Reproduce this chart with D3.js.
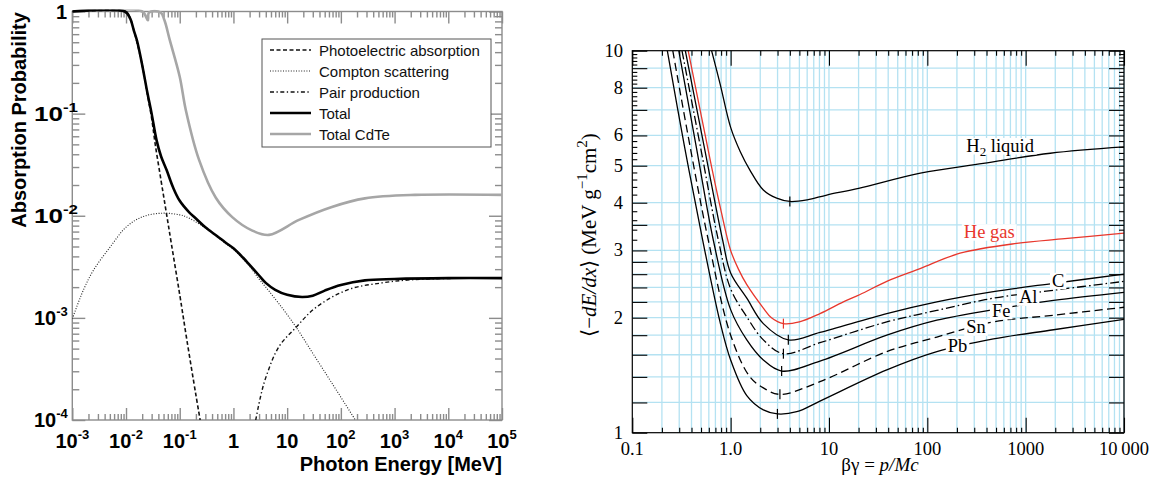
<!DOCTYPE html>
<html>
<head>
<meta charset="utf-8">
<script src="https://cdn.jsdelivr.net/npm/d3@7"></script>
<style>
  body { margin: 0; background: #fff; }
  svg { display: block; }
</style>
</head>
<body>
<div id="chart"></div>
<script>
// ---------- left panel: absorption probability vs photon energy (MeV)
const peE = [0.001, 0.01, 0.011, 0.013, 0.016, 0.02, 0.025, 0.03, 0.035, 0.045, 0.056, 0.07, 0.1, 0.135, 0.2, 0.24];
const peP = [1, 1, 0.95, 0.75, 0.5, 0.3, 0.155, 0.09, 0.05, 0.022, 0.0109, 0.0053, 0.00169, 0.00062, 0.000176, 0.0001];

const comptonE = [0.001, 0.0016, 0.00245, 0.005, 0.0102, 0.0206, 0.0484, 0.1, 0.13, 0.2, 0.3, 0.5, 0.7, 1, 1.5, 2, 3, 4, 8, 14.7, 30, 68, 186];
const comptonP = [0.00098, 0.00186, 0.0029, 0.0049, 0.0078, 0.0098, 0.0106, 0.0102, 0.0098, 0.0087, 0.0076, 0.0062, 0.0054, 0.0047, 0.0038, 0.0032, 0.0024, 0.002, 0.00126, 0.00081, 0.00045, 0.00023, 0.0001];

const pairE = [2.6, 3.2, 4.0, 7, 14.7, 34, 140, 580, 2000, 10000, 100000];
const pairP = [0.0001, 0.00017, 0.00026, 0.00052, 0.00081, 0.00126, 0.0019, 0.0022, 0.00236, 0.00243, 0.00245];

const totalE = [0.001, 0.0095, 0.012, 0.014, 0.016, 0.02, 0.025, 0.03, 0.037, 0.045, 0.057, 0.075, 0.1, 0.15, 0.2, 0.3, 0.5, 0.7, 1, 1.5, 2, 3, 4, 6, 10, 19, 30, 50, 100, 280, 1000, 10000, 100000];
const totalP = [1, 1, 0.85, 0.65, 0.52, 0.3, 0.16, 0.1, 0.055, 0.038, 0.028, 0.019, 0.014, 0.0108, 0.0094, 0.0077, 0.0063, 0.0055, 0.0048, 0.0039, 0.0033, 0.0026, 0.0022, 0.00188, 0.00168, 0.0016, 0.00165, 0.00185, 0.0021, 0.00233, 0.0024, 0.00245, 0.00245];

const cdteE = [0.001, 0.02, 0.0255, 0.0268, 0.044, 0.052, 0.065, 0.1, 0.13, 0.23, 0.47, 0.95, 2.2, 4.6, 16.6, 68, 280, 2400, 100000];
const cdteP = [1, 1, 0.82, 0.98, 0.98, 0.82, 0.53, 0.23, 0.108, 0.035, 0.015, 0.0097, 0.0072, 0.0065, 0.0091, 0.0122, 0.0148, 0.016, 0.016];

const legendLabels = ["Photoelectric absorption", "Compton scattering", "Pair production", "Total", "Total CdTe"];
const energyTicks = [1e-3, 1e-2, 1e-1, 1, 10, 1e2, 1e3, 1e4, 1e5];
const energyTickLabels = ["10^-3", "10^-2", "10^-1", "1", "10", "10^2", "10^3", "10^4", "10^5"];
const probTicks = [1e-4, 1e-3, 1e-2, 1e-1, 1];
const probTickLabels = ["10^-4", "10^-3", "10^-2", "10^-1", "1"];

// ---------- right panel: mean energy loss vs beta*gamma
const h2BG = [0.64, 0.78, 1.0, 1.25, 1.57, 2.15, 2.94, 4.0, 6, 9.5, 20, 85, 370, 1780, 10000];
const h2Val = [10, 8.2, 6.3, 5.45, 4.87, 4.32, 4.11, 4.03, 4.07, 4.19, 4.36, 4.78, 5.07, 5.39, 5.6];

const heBG = [0.37, 0.5, 0.65, 0.8, 1.0, 1.2, 1.46, 2.15, 2.6, 3.44, 5, 8.1, 14, 20.7, 38.7, 84.5, 215, 810, 2500, 10000];
const heVal = [10, 6.8, 4.87, 3.8, 3.0, 2.68, 2.44, 2.12, 2.0, 1.93, 1.95, 2.05, 2.2, 2.3, 2.49, 2.69, 2.95, 3.13, 3.22, 3.33];

const cBG = [0.346, 0.55, 0.83, 1.0, 1.46, 2.15, 3.86, 8.1, 38.7, 125, 470, 1920, 10000];
const cVal = [10, 5.45, 3.19, 2.62, 2.25, 1.93, 1.75, 1.83, 2.05, 2.2, 2.34, 2.46, 2.6];

const alBG = [0.32, 0.5, 0.75, 1.0, 1.46, 2.15, 3.44, 8.1, 38.7, 125, 470, 1920, 10000];
const alVal = [10, 5.5, 3.19, 2.38, 2.01, 1.75, 1.61, 1.72, 1.95, 2.09, 2.25, 2.36, 2.49];

const feBG = [0.297, 0.45, 0.667, 1.0, 1.46, 2.15, 3.3, 8.1, 38.7, 125, 470, 1920, 10000];
const feVal = [10, 5.55, 3.19, 2.1, 1.75, 1.55, 1.45, 1.54, 1.8, 1.97, 2.1, 2.22, 2.33];

const snBG = [0.258, 0.39, 0.593, 1.0, 1.57, 2.15, 3.17, 8.1, 38.7, 125, 470, 1920, 10000];
const snVal = [10, 5.55, 3.19, 1.8, 1.4, 1.31, 1.26, 1.36, 1.63, 1.78, 1.95, 2.03, 2.13];

const pbBG = [0.227, 0.34, 0.52, 0.78, 1.0, 1.46, 2.15, 2.99, 4.7, 8.1, 38.7, 125, 470, 1920, 10000];
const pbVal = [10, 5.6, 3.19, 1.95, 1.55, 1.25, 1.147, 1.12, 1.135, 1.21, 1.46, 1.63, 1.76, 1.86, 1.98];

const materials = ["H2 liquid", "He gas", "C", "Al", "Fe", "Sn", "Pb"];
const minBG = [4.0, 3.44, 3.86, 3.44, 3.3, 3.17, 2.99];
const minVal = [4.03, 1.93, 1.75, 1.61, 1.45, 1.26, 1.12];
// where each material name sits (text centre, baseline)
const labelBG = [550, 426, 2140, 1060, 563, 313, 203];
const labelVal = [5.43, 3.23, 2.41, 2.18, 2.01, 1.82, 1.63];

const bgTicks = [0.1, 1, 10, 100, 1000, 10000];
const bgTickLabels = ["0.1", "1.0", "10", "100", "1000", "10\u2009000"];
const dedxTicks = [1, 2, 3, 4, 5, 6, 8, 10];
const dedxGrid = [1.2, 1.4, 1.6, 1.8, 2, 2.2, 2.4, 2.6, 2.8, 3, 3.5, 4, 5, 6, 7, 8, 9];

// ------------------------------------------------------------------
const svg = d3.select("#chart").append("svg").attr("width", 1152).attr("height", 484);
const SANS = "'Liberation Sans', Arial, Helvetica, sans-serif";
const SERIF = "'Liberation Serif', 'Times New Roman', serif";

function logMinor(domain) {
  const out = [];
  const e0 = Math.floor(Math.log10(domain[0])), e1 = Math.ceil(Math.log10(domain[1]));
  for (let e = e0; e < e1; e++) {
    for (let m = 2; m <= 9; m++) {
      const v = +(m * Math.pow(10, e)).toPrecision(6);
      if (v > domain[0] && v < domain[1]) out.push(v);
    }
  }
  return out;
}

function tickSet(g, axis, scale, vals, len, tx, ty) {
  g.append("g")
    .attr("transform", `translate(${tx},${ty})`)
    .call(axis(scale).tickValues(vals).tickSize(-len).tickSizeOuter(0).tickFormat(""))
    .call(s => s.select(".domain").remove());
}

function powLabel(sel, label, supSize, supDy) {
  const parts = label.split("^");
  sel.append("tspan").text(parts[0]);
  if (parts.length > 1) {
    sel.append("tspan").attr("font-size", supSize).attr("dy", supDy).text(parts[1]);
  }
}

const zip = (xs, ys) => xs.map((x, i) => [x, ys[i]]);

// ================= LEFT PANEL =================
const L = { left: 72.3, right: 502, top: 11.5, bottom: 420 };
const xL = d3.scaleLog().domain([1e-3, 1e5]).range([L.left, L.right]);
const yL = d3.scaleLog().domain([1e-4, 1]).range([L.bottom, L.top]);

const left = svg.append("g");

svg.append("clipPath").attr("id", "clipL").append("rect")
  .attr("x", L.left).attr("y", L.top - 2).attr("width", L.right - L.left).attr("height", L.bottom - L.top + 2);

// frame + ticks (gray)
const lAxes = left.append("g").attr("color", "#8c8c8c").attr("stroke-width", 1.4);
lAxes.append("rect")
  .attr("x", L.left).attr("y", L.top).attr("width", L.right - L.left).attr("height", L.bottom - L.top)
  .attr("fill", "none").attr("stroke", "#8c8c8c").attr("stroke-width", 1.4);
const xMinorL = logMinor(xL.domain());
const yMinorL = logMinor(yL.domain());
tickSet(lAxes, d3.axisBottom, xL, energyTicks, 12, 0, L.bottom);
tickSet(lAxes, d3.axisBottom, xL, xMinorL, 6, 0, L.bottom);
tickSet(lAxes, d3.axisTop, xL, energyTicks, 12, 0, L.top);
tickSet(lAxes, d3.axisTop, xL, xMinorL, 6, 0, L.top);
tickSet(lAxes, d3.axisLeft, yL, probTicks, 13, L.left, 0);
tickSet(lAxes, d3.axisLeft, yL, yMinorL, 7, L.left, 0);
tickSet(lAxes, d3.axisRight, yL, probTicks, 13, L.right, 0);
tickSet(lAxes, d3.axisRight, yL, yMinorL, 7, L.right, 0);

// curves
const lineL = d3.line().x(d => xL(d[0])).y(d => yL(d[1])).curve(d3.curveCatmullRom.alpha(0.5));
const lSeries = [
  { e: cdteE, p: cdteP, stroke: "#a6a6a6", w: 2.6, dash: null },
  { e: peE, p: peP, stroke: "#111", w: 1.6, dash: "4,2.5" },
  { e: comptonE, p: comptonP, stroke: "#222", w: 1.1, dash: "1,1.6" },
  { e: pairE, p: pairP, stroke: "#111", w: 1.4, dash: "4,2.5,1.3,2.5" },
  { e: totalE, p: totalP, stroke: "#000", w: 2.6, dash: null }
];
left.append("g").attr("clip-path", "url(#clipL)")
  .selectAll("path").data(lSeries).join("path")
  .attr("d", d => lineL(zip(d.e, d.p)))
  .attr("fill", "none")
  .attr("stroke", d => d.stroke)
  .attr("stroke-width", d => d.w)
  .attr("stroke-dasharray", d => d.dash);

// tick labels
left.append("g").selectAll("text").data(energyTicks).join("text")
  .attr("x", d => xL(d)).attr("y", 448)
  .attr("text-anchor", "middle")
  .attr("font-family", SANS).attr("font-weight", "bold").attr("font-size", 20)
  .each(function (d, i) { powLabel(d3.select(this), energyTickLabels[i], 13, -9); });

left.append("g").selectAll("text").data(probTicks).join("text")
  .attr("x", (d, i) => probTickLabels[i] === "1" ? 67 : 34)
  .attr("y", d => yL(d) + 7)
  .attr("text-anchor", (d, i) => probTickLabels[i] === "1" ? "end" : "start")
  .attr("font-family", SANS).attr("font-weight", "bold").attr("font-size", 20)
  .each(function (d, i) {
    powLabel(d3.select(this), probTickLabels[i], 13, -9);
    // the two upper labels are drawn wider in the original
    if (d === 1e-1 || d === 1e-2) {
      d3.select(this).attr("textLength", 44).attr("lengthAdjust", "spacingAndGlyphs");
    }
  });

left.append("text")
  .attr("transform", "translate(26,120) rotate(-90)")
  .attr("text-anchor", "middle")
  .attr("font-family", SANS).attr("font-weight", "bold").attr("font-size", 20)
  .text("Absorption Probability");

left.append("text")
  .attr("x", L.right).attr("y", 471)
  .attr("text-anchor", "end")
  .attr("font-family", SANS).attr("font-weight", "bold").attr("font-size", 20)
  .text("Photon Energy [MeV]");

// legend
const leg = left.append("g");
leg.append("rect")
  .attr("x", 262).attr("y", 39).attr("width", 229).attr("height", 108)
  .attr("fill", "#fff").attr("stroke", "#555").attr("stroke-width", 1);
const legStyles = [lSeries[1], lSeries[2], lSeries[3], lSeries[4], lSeries[0]];
const legRow = leg.selectAll("g.row").data(legendLabels).join("g")
  .attr("class", "row")
  .attr("transform", (d, i) => `translate(0,${50 + i * 21})`);
legRow.append("line")
  .attr("x1", 270).attr("x2", 311)
  .attr("stroke", (d, i) => legStyles[i].stroke)
  .attr("stroke-width", (d, i) => legStyles[i].w)
  .attr("stroke-dasharray", (d, i) => legStyles[i].dash);
legRow.append("text")
  .attr("x", 319).attr("y", 5.5)
  .attr("font-family", SANS).attr("font-size", 15).attr("fill", "#111")
  .text(d => d);

// ================= RIGHT PANEL =================
const R = { left: 632.3, right: 1124, top: 50.7, bottom: 432.7 };
const xR = d3.scaleLog().domain([0.1, 10000]).range([R.left, R.right]);
const yR = d3.scaleLog().domain([1, 10]).range([R.bottom, R.top]);

const right = svg.append("g");
svg.append("clipPath").attr("id", "clipR").append("rect")
  .attr("x", R.left).attr("y", R.top).attr("width", R.right - R.left).attr("height", R.bottom - R.top);

// grid
const xMinorR = logMinor(xR.domain());
const xGridR = xMinorR.concat(bgTicks.slice(1));
const grid = right.append("g").attr("stroke", "#b4e2f2").attr("stroke-width", 1.3);
grid.selectAll("line.gx").data(xGridR).join("line").attr("class", "gx")
  .attr("x1", d => xR(d)).attr("x2", d => xR(d)).attr("y1", R.top).attr("y2", R.bottom);
grid.selectAll("line.gy").data(dedxGrid).join("line").attr("class", "gy")
  .attr("y1", d => yR(d)).attr("y2", d => yR(d)).attr("x1", R.left).attr("x2", R.right);

// curves
const lineR = d3.line().x(d => xR(d[0])).y(d => yR(d[1])).curve(d3.curveCatmullRom.alpha(0.5));
const rSeries = [
  { x: h2BG, y: h2Val, stroke: "#000", dash: null },
  { x: heBG, y: heVal, stroke: "#e8372c", dash: null },
  { x: cBG, y: cVal, stroke: "#000", dash: null },
  { x: alBG, y: alVal, stroke: "#000", dash: "9,3,1.6,3" },
  { x: feBG, y: feVal, stroke: "#000", dash: null },
  { x: snBG, y: snVal, stroke: "#000", dash: "8,4.5" },
  { x: pbBG, y: pbVal, stroke: "#000", dash: null }
];
right.append("g").attr("clip-path", "url(#clipR)")
  .selectAll("path").data(rSeries).join("path")
  .attr("d", d => lineR(zip(d.x, d.y)))
  .attr("fill", "none")
  .attr("stroke", d => d.stroke)
  .attr("stroke-width", 1.3)
  .attr("stroke-dasharray", d => d.dash);

// small marks at the minima
right.append("g").selectAll("line").data(minBG).join("line")
  .attr("x1", d => xR(d)).attr("x2", d => xR(d))
  .attr("y1", (d, i) => yR(minVal[i]) - 5).attr("y2", (d, i) => yR(minVal[i]) + 5)
  .attr("stroke", (d, i) => rSeries[i].stroke).attr("stroke-width", 1.2);

// material labels on white patches
const lab = right.append("g").selectAll("g").data(materials).join("g");
lab.append("text")
  .attr("x", (d, i) => xR(labelBG[i])).attr("y", (d, i) => yR(labelVal[i]))
  .attr("text-anchor", "middle")
  .attr("font-family", SERIF).attr("font-size", 18.5)
  .attr("fill", (d, i) => i === 1 ? "#e8372c" : "#000")
  .each(function (d) {
    const t = d3.select(this);
    if (d.startsWith("H2")) {
      t.append("tspan").text("H");
      t.append("tspan").attr("font-size", 13).attr("dy", 4).text("2");
      t.append("tspan").attr("dy", -4).text(" liquid");
    } else {
      t.text(d);
    }
  });
lab.each(function (d, i) {
  const g = d3.select(this);
  const b = g.select("text").node().getBBox();
  const base = yR(labelVal[i]);
  g.insert("rect", "text")
    .attr("x", b.x - 2).attr("y", base - 14).attr("width", b.width + 4).attr("height", 16.5)
    .attr("fill", "#fff");
});

// frame + ticks
const rAxes = right.append("g").attr("color", "#000").attr("stroke-width", 1.1);
rAxes.append("rect")
  .attr("x", R.left).attr("y", R.top).attr("width", R.right - R.left).attr("height", R.bottom - R.top)
  .attr("fill", "none").attr("stroke", "#000").attr("stroke-width", 1.2);
const yMinorR = d3.range(3.2, 10, 0.2).map(v => +v.toFixed(1)).filter(v => !dedxGrid.includes(v));
const yMajorR = dedxGrid.concat([1, 10]);
tickSet(rAxes, d3.axisBottom, xR, bgTicks, 15, 0, R.bottom);
tickSet(rAxes, d3.axisBottom, xR, xMinorR, 5, 0, R.bottom);
tickSet(rAxes, d3.axisTop, xR, bgTicks, 15, 0, R.top);
tickSet(rAxes, d3.axisTop, xR, xMinorR, 5, 0, R.top);
tickSet(rAxes, d3.axisLeft, yR, yMajorR, 15, R.left, 0);
tickSet(rAxes, d3.axisLeft, yR, yMinorR, 5, R.left, 0);
tickSet(rAxes, d3.axisRight, yR, yMajorR, 15, R.right, 0);
tickSet(rAxes, d3.axisRight, yR, yMinorR, 5, R.right, 0);

// tick labels
right.append("g").selectAll("text").data(bgTicks).join("text")
  .attr("x", d => xR(d)).attr("y", 455)
  .attr("text-anchor", "middle")
  .attr("font-family", SERIF).attr("font-size", 18.5)
  .text((d, i) => bgTickLabels[i]);
right.append("g").selectAll("text").data(dedxTicks).join("text")
  .attr("x", 623).attr("y", d => yR(d) + 6)
  .attr("text-anchor", "end")
  .attr("font-family", SERIF).attr("font-size", 18.5)
  .text(d => d);

// axis titles
const yt = right.append("text")
  .attr("transform", "translate(596,235) rotate(-90)")
  .attr("text-anchor", "middle")
  .attr("font-family", SERIF).attr("font-size", 21);
yt.append("tspan").text("\u27E8\u2212");
yt.append("tspan").attr("font-style", "italic").text("dE/dx");
yt.append("tspan").text("\u27E9 (MeV g");
yt.append("tspan").attr("font-size", 15).attr("dy", -9).text("\u22121");
yt.append("tspan").attr("dy", 9).text("cm");
yt.append("tspan").attr("font-size", 15).attr("dy", -9).text("2");
yt.append("tspan").attr("dy", 9).text(")");

const xt = right.append("text")
  .attr("x", 880).attr("y", 471)
  .attr("text-anchor", "middle")
  .attr("font-family", SERIF).attr("font-size", 19);
xt.append("tspan").text("\u03B2\u03B3 = ");
xt.append("tspan").attr("font-style", "italic").text("p/Mc");
</script>
</body>
</html>
